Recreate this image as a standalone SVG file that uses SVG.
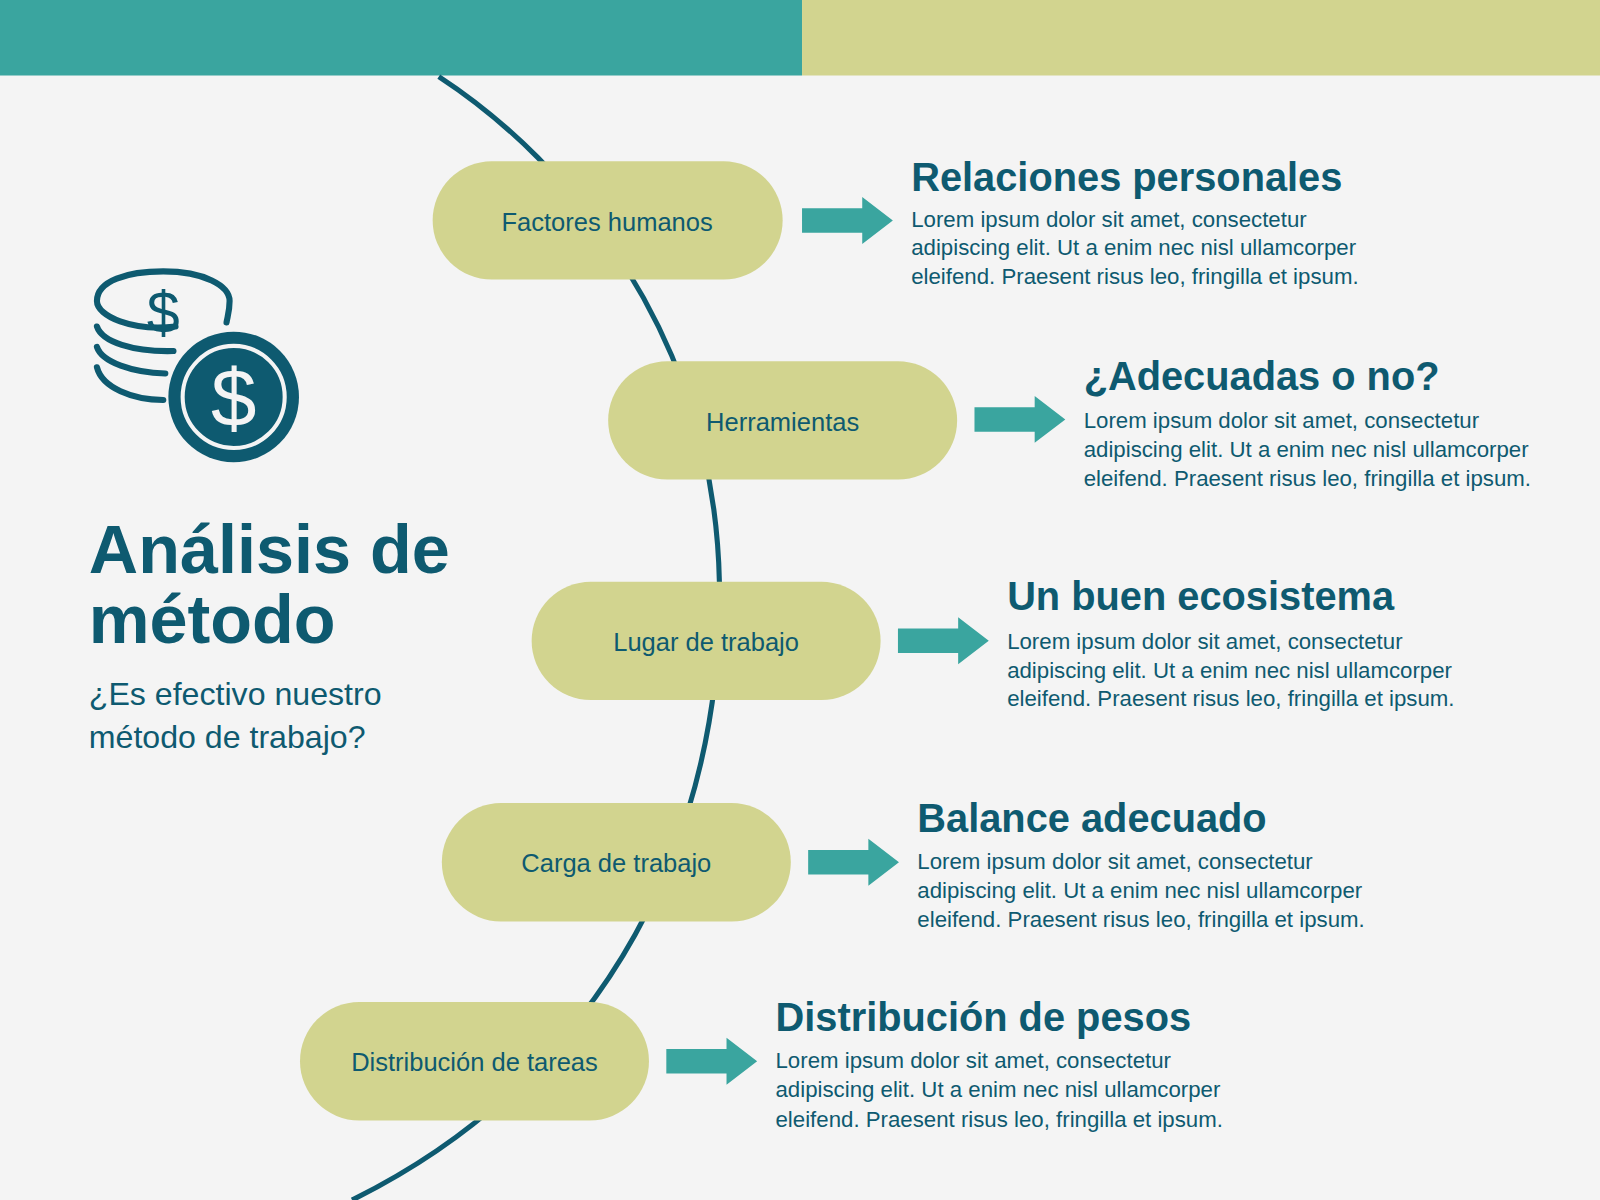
<svg xmlns="http://www.w3.org/2000/svg" width="1600" height="1200" viewBox="0 0 1600 1200">
<defs>
<style>
.pill{fill:#d2d48f}
.pt{font-family:"Liberation Sans",Arial,sans-serif;font-size:25px;fill:#0e5a70;text-anchor:middle}
.h{font-family:"Liberation Sans",Arial,sans-serif;font-size:39px;font-weight:bold;fill:#0e5a70}
.b{font-family:"Liberation Sans",Arial,sans-serif;font-size:21.8px;fill:#0e5a70}
.ar{fill:#3aa59f}
</style>
<path id="arw" d="M0 -12 H59 V-23 L89 0 L59 23 V12 H0 Z"/>
</defs>
<rect width="1600" height="1200" fill="#f4f4f4"/>
<g transform="scale(1.0204)">
<rect x="0" y="0" width="786" height="74" fill="#3aa59f"/>
<rect x="786" y="0" width="782" height="74" fill="#d2d48f"/>
<g id="connectors">
<path d="M430 75 C560 160 700 330 705 570 S600 1050 345 1176" fill="none" stroke="#0e5a70" stroke-width="5"/>
<use href="#arw" class="ar" x="786" y="216"/>
<use href="#arw" class="ar" x="955" y="411"/>
<use href="#arw" class="ar" x="880" y="628"/>
<use href="#arw" class="ar" x="792" y="845"/>
<use href="#arw" class="ar" x="653" y="1040"/>
</g>
<g id="icon" fill="none" stroke="#0e5a70" stroke-width="6" stroke-linecap="round">
<path d="M172 320 C130 325 95 310 95 295 C95 275 125 266 160 266 C200 266 225 280 225 295 C225 305 223 310 222 316"/>
<path d="M95 320 C100 335 130 345 170 344"/>
<path d="M95 340 C100 355 130 365 162 366"/>
<path d="M95 360 C100 380 130 392 160 392"/>
<circle cx="229" cy="389" r="64" fill="#0e5a70" stroke="none"/>
<circle cx="229" cy="389" r="50" stroke="#f4f4f4" stroke-width="4"/>
<text x="160" y="326" font-family="Liberation Sans,sans-serif" font-size="58" fill="#0e5a70" stroke="none" text-anchor="middle">$</text>
<text x="229" y="417" font-family="Liberation Sans,sans-serif" font-size="80" fill="#f4f4f4" stroke="none" text-anchor="middle">$</text>
</g>
<g id="title">
<text x="87" y="562" font-family="Liberation Sans,Arial,sans-serif" font-size="67" font-weight="bold" fill="#0e5a70">Análisis de</text>
<text x="87" y="630" font-family="Liberation Sans,Arial,sans-serif" font-size="67" font-weight="bold" fill="#0e5a70">método</text>
<text x="87" y="691" font-family="Liberation Sans,Arial,sans-serif" font-size="31.5" fill="#0e5a70">¿Es efectivo nuestro</text>
<text x="87" y="733" font-family="Liberation Sans,Arial,sans-serif" font-size="31.5" fill="#0e5a70">método de trabajo?</text>
</g>
<g id="n1"><rect class="pill" x="424" y="158" width="343" height="116" rx="58"/><text class="pt" x="595" y="226">Factores humanos</text>
<text class="h" x="893" y="187">Relaciones personales</text>
<text class="b" x="893" y="222">Lorem ipsum dolor sit amet, consectetur</text><text class="b" x="893" y="250">adipiscing elit. Ut a enim nec nisl ullamcorper</text><text class="b" x="893" y="278">eleifend. Praesent risus leo, fringilla et ipsum.</text></g>
<g id="n2"><rect class="pill" x="596" y="354" width="342" height="116" rx="58"/><text class="pt" x="767" y="422">Herramientas</text>
<text class="h" x="1062" y="382">¿Adecuadas o no?</text>
<text class="b" x="1062" y="419">Lorem ipsum dolor sit amet, consectetur</text><text class="b" x="1062" y="448">adipiscing elit. Ut a enim nec nisl ullamcorper</text><text class="b" x="1062" y="476">eleifend. Praesent risus leo, fringilla et ipsum.</text></g>
<g id="n3"><rect class="pill" x="521" y="570" width="342" height="116" rx="58"/><text class="pt" x="692" y="638">Lugar de trabajo</text>
<text class="h" x="987" y="598">Un buen ecosistema</text>
<text class="b" x="987" y="636">Lorem ipsum dolor sit amet, consectetur</text><text class="b" x="987" y="664">adipiscing elit. Ut a enim nec nisl ullamcorper</text><text class="b" x="987" y="692">eleifend. Praesent risus leo, fringilla et ipsum.</text></g>
<g id="n4"><rect class="pill" x="433" y="787" width="342" height="116" rx="58"/><text class="pt" x="604" y="855">Carga de trabajo</text>
<text class="h" x="899" y="815">Balance adecuado</text>
<text class="b" x="899" y="852">Lorem ipsum dolor sit amet, consectetur</text><text class="b" x="899" y="880">adipiscing elit. Ut a enim nec nisl ullamcorper</text><text class="b" x="899" y="908">eleifend. Praesent risus leo, fringilla et ipsum.</text></g>
<g id="n5"><rect class="pill" x="294" y="982" width="342" height="116" rx="58"/><text class="pt" x="465" y="1050">Distribución de tareas</text>
<text class="h" x="760" y="1010">Distribución de pesos</text>
<text class="b" x="760" y="1047">Lorem ipsum dolor sit amet, consectetur</text><text class="b" x="760" y="1075">adipiscing elit. Ut a enim nec nisl ullamcorper</text><text class="b" x="760" y="1104">eleifend. Praesent risus leo, fringilla et ipsum.</text></g>
</g>
</svg>
